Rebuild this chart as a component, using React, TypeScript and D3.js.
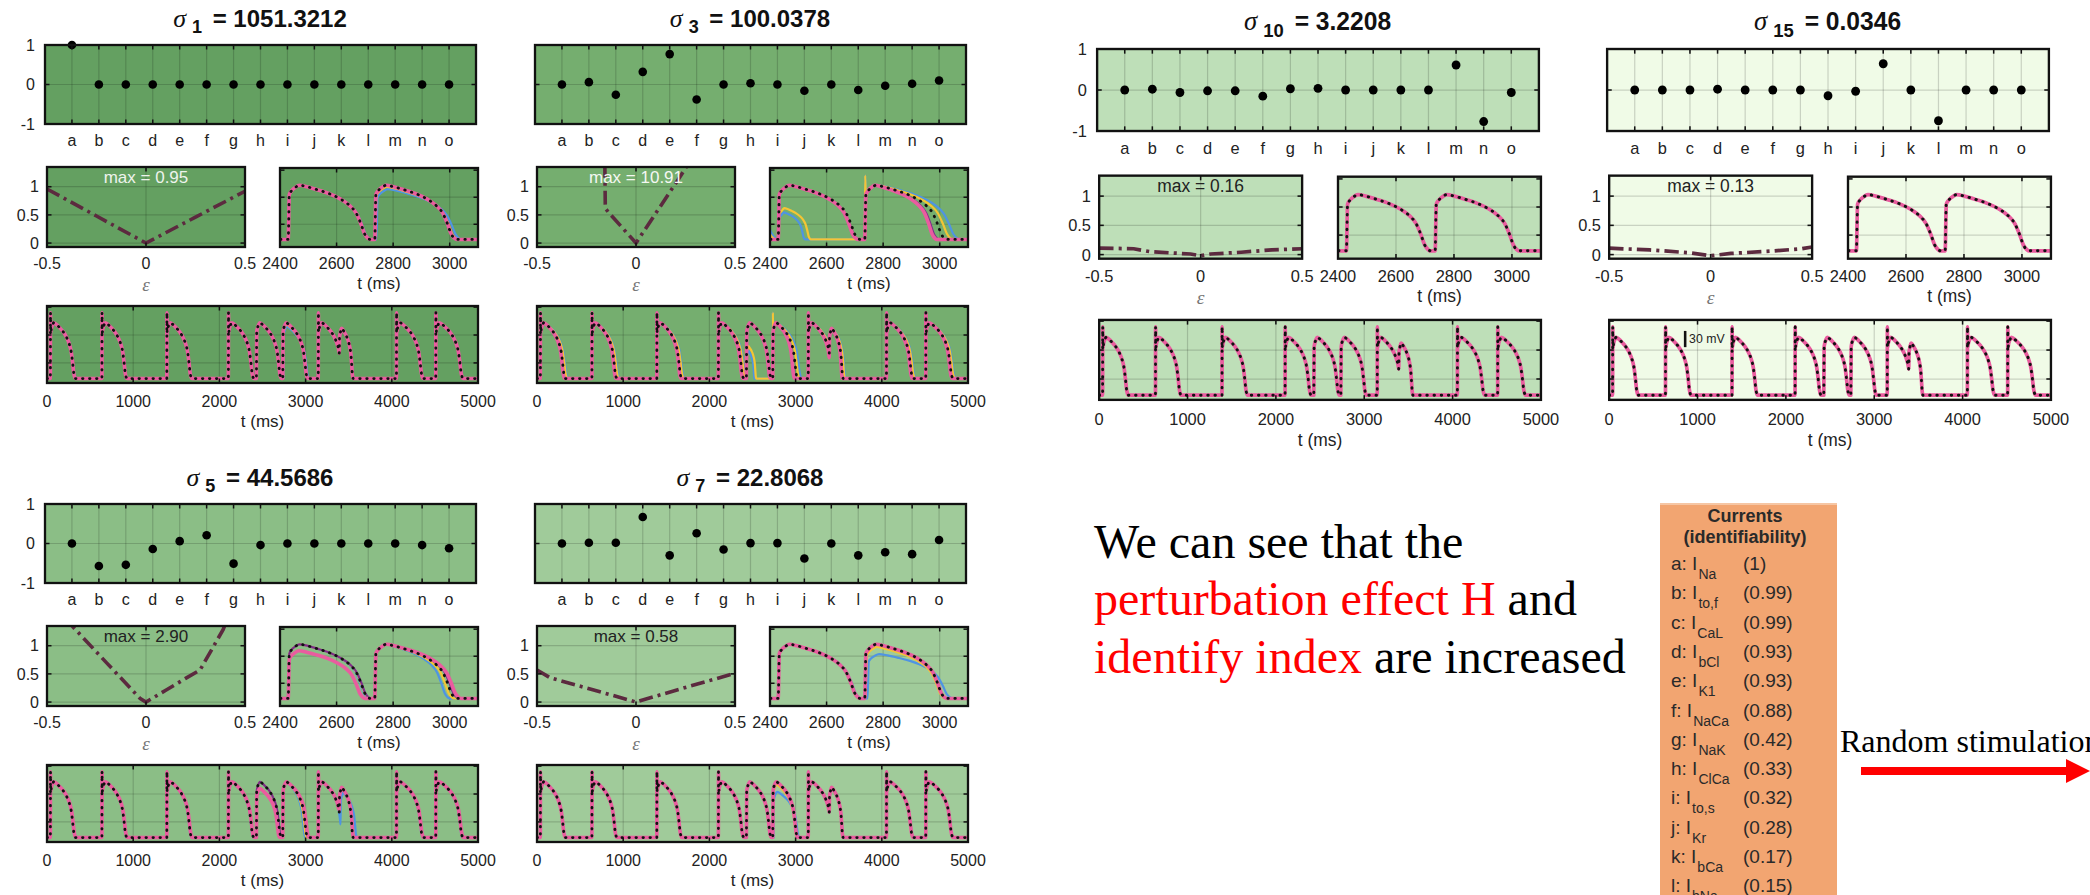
import React from 'react';
import * as d3 from 'd3';

// ---------------- data ----------------
const CATEGORIES = ['a', 'b', 'c', 'd', 'e', 'f', 'g', 'h', 'i', 'j', 'k', 'l', 'm', 'n', 'o'];
const SIGMA_INDEX = ['1', '3', '5', '7', '10', '15'];
const SIGMA_VALUE = ['1051.3212', '100.0378', '44.5686', '22.8068', '3.2208', '0.0346'];
const MAX_LABEL = ['0.95', '10.91', '2.90', '0.58', '0.16', '0.13'];

const SV_1 = [1, 0, 0, 0, 0, 0, 0, 0, 0, 0, 0, 0, 0, 0, 0];
const SV_3 = [0, 0.06, -0.26, 0.32, 0.77, -0.38, 0, 0.03, 0, -0.16, 0, -0.14, -0.03, 0.02, 0.1];
const SV_5 = [0, -0.57, -0.54, -0.14, 0.06, 0.21, -0.51, -0.04, 0, 0, 0, 0, 0, -0.04, -0.12];
const SV_7 = [0, 0.02, 0.02, 0.67, -0.3, 0.26, -0.15, 0.01, 0.01, -0.38, 0, -0.3, -0.22, -0.27, 0.09];
const SV_10 = [0, 0.02, -0.06, -0.02, -0.02, -0.15, 0.03, 0.04, 0, 0, 0, 0, 0.61, -0.77, -0.06];
const SV_15 = [0, 0, 0, 0.02, 0, 0, 0, -0.14, -0.03, 0.64, 0, -0.75, 0, 0, 0];

// H(epsilon) curves: [epsilon, H]
const H_1 = [[-0.5, 0.96], [-0.25, 0.48], [0, 0], [0.25, 0.46], [0.5, 0.92]];
const H_3 = [[-0.5, 10.91], [-0.2, 4.0], [-0.158, 1.6], [-0.155, 0.62], [-0.14, 0.55], [0, 0], [0.1, 0.53], [0.206, 1.09], [0.3, 1.6], [0.5, 2.6]];
const H_5 = [[-0.5, 1.84], [-0.357, 1.29], [-0.2, 0.7], [-0.029, 0.06], [0, 0], [0.1, 0.21], [0.2, 0.42], [0.273, 0.57], [0.39, 1.29], [0.45, 1.85], [0.5, 2.9]];
const H_7 = [[-0.5, 0.57], [-0.433, 0.43], [-0.2, 0.2], [-0.029, 0.03], [0, 0], [0.25, 0.26], [0.5, 0.51]];
const H_10 = [[-0.5, 0.11], [-0.33, 0.1], [-0.25, 0.05], [-0.15, 0.03], [-0.05, 0.01], [0, -0.02], [0.05, 0.01], [0.2, 0.04], [0.35, 0.08], [0.5, 0.1]];
const H_15 = [[-0.5, 0.11], [-0.3, 0.08], [-0.1, 0.03], [0, -0.02], [0.1, 0.02], [0.3, 0.06], [0.45, 0.1], [0.5, 0.13]];

const EPS_TICKS = [-0.5, 0, 0.5];
const EPS_TICK_LABELS = ['-0.5', '0', '0.5'];
const H_TICKS = [0, 0.5, 1];
const H_TICK_LABELS = ['0', '0.5', '1'];
const SV_TICKS = [-1, 0, 1];
const SV_TICK_LABELS = ['-1', '0', '1'];
const ZOOM_TICKS = [2400, 2600, 2800, 3000];
const FULL_TICKS = [0, 1000, 2000, 3000, 4000, 5000];
const MV_TICKS = [-50, 0, 50];

// action potential template: [ms after stimulus, mV]
const REST = -78;
const SPIKE_PEAK = 40;
const TEMPLATE_DUR = 295;
const AP_TEMPLATE = [
  [0, -78], [4, 5], [12, 12], [25, 18], [40, 22], [70, 19], [110, 13], [150, 6], [190, -4],
  [220, -15], [245, -30], [262, -50], [275, -68], [287, -76], [295, -78],
];
// reference beats: [start ms, duration ms, amplitude, spike]
const REF_BEATS = [
  [39, 291, 1, 1], [637, 290, 1, 1], [1390, 290, 1, 1], [2104, 295, 1, 1], [2429, 290, 1, 0],
  [2735, 290, 1, 0], [3147, 290, 1, 1], [3390, 162, 0.9, 0], [4054, 310, 1, 1], [4510, 316, 1, 1],
];
// perturbed traces: [colour, duration shift, beat overrides [index, start, dur, amp, spike]]
const VAR_1 = [
  ['blue', 3, [[5, 2741, 300, 0.93, 0]]],
  ['yellow', 0, [[5, 2737, 292, 0.97, 0]]],
  ['purple', 0, []],
  ['pink', 0, []],
];
const VAR_3 = [
  ['blue', 30, [[4, 2429, 95, 0.5, 0], [5, 2735, 336, 1, 1]]],
  ['yellow', 22, [[4, 2429, 115, 0.58, 0], [5, 2735, 312, 1, 1]]],
  ['purple', -5, [[5, 2735, 262, 1, 0]]],
  ['pink', -8, [[5, 2735, 255, 1, 0]]],
];
const VAR_5 = [
  ['blue', -3, [[5, 2735, 265, 1, 0], [7, 3405, 190, 0.8, 0]]],
  ['yellow', 0, [[5, 2735, 280, 1, 0]]],
  ['purple', 2, [[5, 2735, 298, 1, 0]]],
  ['pink', 5, [[4, 2429, 272, 0.88, 0], [5, 2735, 305, 1, 0]]],
];
const VAR_7 = [
  ['blue', 3, [[5, 2745, 300, 0.82, 0]]],
  ['yellow', 0, [[5, 2738, 282, 0.95, 0]]],
  ['purple', 0, []],
  ['pink', 0, []],
];
const VAR_10 = [['blue', 0, []], ['yellow', 0, []], ['purple', 0, []], ['pink', 0, []]];
const VAR_15 = [['blue', 0, []], ['yellow', 0, []], ['purple', 0, []], ['pink', 0, []]];

const CURRENT_ROWS = [
  ['a', 'Na', '(1)'], ['b', 'to,f', '(0.99)'], ['c', 'CaL', '(0.99)'], ['d', 'bCl', '(0.93)'],
  ['e', 'K1', '(0.93)'], ['f', 'NaCa', '(0.88)'], ['g', 'NaK', '(0.42)'], ['h', 'ClCa', '(0.33)'],
  ['i', 'to,s', '(0.32)'], ['j', 'Kr', '(0.28)'], ['k', 'bCa', '(0.17)'], ['l', 'bNa', '(0.15)'],
];

// ---------------- styles / layout ----------------
const SVS = [SV_1, SV_3, SV_5, SV_7, SV_10, SV_15];
const HS = [H_1, H_3, H_5, H_7, H_10, H_15];
const VARS = [VAR_1, VAR_3, VAR_5, VAR_7, VAR_10, VAR_15];
const BG = ['#64a061', '#75ae6f', '#8bbe86', '#a0cb9a', '#bedfb8', '#f0fbe7'];
const MAX_COLOR = ['#eef3ec', '#f4f7f2', '#222', '#222', '#222', '#222'];
const SHOW_SV_LABELS = [true, false, true, false, true, false];
const GROUP_POS = [[0, 0, 1, 1], [490, 0, 1, 1], [0, 459, 1, 1], [490, 459, 1, 1], [1051, 2.3, 1.025, 1.038], [1561, 2.3, 1.025, 1.038]];
const COLORS: Record<string, string> = { blue: '#4f94e3', yellow: '#f4c534', purple: '#7a2f8a', pink: '#ea5c9f' };
const SANS = "'Liberation Sans', Arial, Helvetica, sans-serif";
const SERIF = "'Liberation Serif', 'Times New Roman', serif";

const R_DOTS = { x0: 45, x1: 476, y0: 45, y1: 124 };
const R_EPS = { x0: 47, x1: 245, y0: 167, y1: 247 };
const R_ZOOM = { x0: 280, x1: 478, y0: 168, y1: 247 };
const R_FULL = { x0: 47, x1: 478, y0: 306, y1: 383 };

// ---------------- helpers ----------------
function valueAt(pts: number[][], t: number) {
  const last = pts[pts.length - 1];
  if (t >= last[0]) return REST;
  const i = d3.bisector((d: number[]) => d[0]).right(pts, t);
  const a = pts[i - 1], b = pts[i];
  return a[1] + ((b[1] - a[1]) * (t - a[0])) / (b[0] - a[0]);
}

function buildTrace(beats: number[][]) {
  let pts: number[][] = [[0, REST]];
  beats.forEach(([start, dur, amp, spike]) => {
    const v0 = valueAt(pts, start);
    pts = pts.filter((p) => p[0] < start);
    pts.push([start, v0]);
    if (spike) pts.push([start + 1.5, SPIKE_PEAK]);
    const k = (dur - 12) / (TEMPLATE_DUR - 12);
    AP_TEMPLATE.forEach(([t, v]) => {
      if (t === 0) return;
      const tt = t <= 12 ? t : 12 + (t - 12) * k;
      pts.push([start + tt, REST + (v - REST) * amp]);
    });
  });
  pts.push([5000, REST]);
  return pts;
}

function variantBeats(shift: number, overrides: number[][]) {
  return REF_BEATS.map((b, i) => {
    const o = overrides.find((q) => q[0] === i);
    if (o) return o.slice(1);
    return [b[0], b[1] + shift, b[2], b[3]];
  });
}

const REF_TRACE = buildTrace(REF_BEATS);

function Frame({ r, xt, yt }: any) {
  const L = 4.5;
  return (
    <g stroke="#111" fill="none">
      {xt.map((x: number, i: number) => (
        <g key={'x' + i}>
          <line x1={x} x2={x} y1={r.y1} y2={r.y1 - L} strokeWidth={1.5} />
          <line x1={x} x2={x} y1={r.y0} y2={r.y0 + L} strokeWidth={1.5} />
        </g>
      ))}
      {yt.map((y: number, i: number) => (
        <g key={'y' + i}>
          <line x1={r.x0} x2={r.x0 + L} y1={y} y2={y} strokeWidth={1.5} />
          <line x1={r.x1} x2={r.x1 - L} y1={y} y2={y} strokeWidth={1.5} />
        </g>
      ))}
      <rect x={r.x0} y={r.y0} width={r.x1 - r.x0} height={r.y1 - r.y0} strokeWidth={2.3} />
    </g>
  );
}

function Grid({ r, xg, yg }: any) {
  return (
    <g stroke="#000" strokeOpacity={0.16} strokeWidth={1.2}>
      {xg.map((x: number, i: number) => <line key={'gx' + i} x1={x} x2={x} y1={r.y0} y2={r.y1} />)}
      {yg.map((y: number, i: number) => <line key={'gy' + i} x1={r.x0} x2={r.x1} y1={y} y2={y} />)}
    </g>
  );
}

function Traces({ p, xS, yS, clipId }: any) {
  const line = d3.line<number[]>().x((d) => xS(d[0])).y((d) => yS(d[1])).curve(d3.curveMonotoneX);
  return (
    <g clipPath={`url(#${clipId})`} fill="none" strokeLinejoin="round">
      {VARS[p].map((v: any, i: number) => {
        const tr = buildTrace(variantBeats(v[1], v[2]));
        return (
          <path key={i} d={line(tr) || ''} stroke={COLORS[v[0]]} strokeWidth={v[0] === 'pink' ? 3.6 : 2.2} />
        );
      })}
      <path d={line(REF_TRACE) || ''} stroke="#111" strokeWidth={2.8} strokeDasharray="0.5 6.5" strokeLinecap="round" />
    </g>
  );
}

function Panel({ p }: { p: number }) {
  const [ox, oy, sx, sy] = GROUP_POS[p];
  const bg = BG[p];
  const xD = d3.scaleLinear().domain([0, 16]).range([R_DOTS.x0, R_DOTS.x1]);
  const yD = d3.scaleLinear().domain([-1, 1]).range([R_DOTS.y1, R_DOTS.y0]);
  const xE = d3.scaleLinear().domain([-0.5, 0.5]).range([R_EPS.x0, R_EPS.x1]);
  const yE = d3.scaleLinear().domain([-0.07, 1.35]).range([R_EPS.y1, R_EPS.y0]);
  const xZ = d3.scaleLinear().domain([2400, 3100]).range([R_ZOOM.x0, R_ZOOM.x1]);
  const yZ = d3.scaleLinear().domain([-92, 54]).range([R_ZOOM.y1, R_ZOOM.y0]);
  const xF = d3.scaleLinear().domain([0, 5000]).range([R_FULL.x0, R_FULL.x1]);
  const yF = d3.scaleLinear().domain([-86, 52]).range([R_FULL.y1, R_FULL.y0]);

  const hLine = d3.line<number[]>().x((d) => xE(d[0])).y((d) => yE(d[1])).curve(d3.curveLinear);
  const cid = (s: string) => `clip-${s}-${p}`;
  const idx = CATEGORIES.map((_, i) => i + 1);

  return (
    <g transform={`translate(${ox},${oy}) scale(${sx},${sy})`}>
      <defs>
        <clipPath id={cid('e')}><rect x={R_EPS.x0} y={R_EPS.y0} width={R_EPS.x1 - R_EPS.x0} height={R_EPS.y1 - R_EPS.y0} /></clipPath>
        <clipPath id={cid('z')}><rect x={R_ZOOM.x0} y={R_ZOOM.y0} width={R_ZOOM.x1 - R_ZOOM.x0} height={R_ZOOM.y1 - R_ZOOM.y0} /></clipPath>
        <clipPath id={cid('f')}><rect x={R_FULL.x0} y={R_FULL.y0} width={R_FULL.x1 - R_FULL.x0} height={R_FULL.y1 - R_FULL.y0} /></clipPath>
      </defs>

      {/* title */}
      <text x={260} y={27} textAnchor="middle" fontFamily={SANS} fontSize={24} fontWeight="bold" fill="#111">
        <tspan fontFamily={SERIF} fontStyle="italic" fontWeight="normal" fontSize={26}>σ</tspan>
        <tspan fontSize={18} dy={6} dx={6}>{SIGMA_INDEX[p]}</tspan>
        <tspan dy={-6} dx={4}>{' = ' + SIGMA_VALUE[p]}</tspan>
      </text>

      {/* singular vector dots */}
      <rect x={R_DOTS.x0} y={R_DOTS.y0} width={R_DOTS.x1 - R_DOTS.x0} height={R_DOTS.y1 - R_DOTS.y0} fill={bg} />
      <Grid r={R_DOTS} xg={idx.map((i) => xD(i))} yg={[yD(0)]} />
      {SVS[p].map((v, i) => <circle key={i} cx={xD(i + 1)} cy={yD(v)} r={4.3} fill="#000" />)}
      <Frame r={R_DOTS} xt={idx.map((i) => xD(i))} yt={SV_TICKS.map((v) => yD(v))} />
      {CATEGORIES.map((c, i) => (
        <text key={c} x={xD(i + 1)} y={146} textAnchor="middle" fontFamily={SANS} fontSize={16} fill="#222">{c}</text>
      ))}
      {SHOW_SV_LABELS[p] && SV_TICKS.map((v, i) => (
        <text key={i} x={R_DOTS.x0 - 10} y={yD(v)} dy="0.36em" textAnchor="end" fontFamily={SANS} fontSize={16} fill="#222">{SV_TICK_LABELS[i]}</text>
      ))}

      {/* epsilon panel */}
      <rect x={R_EPS.x0} y={R_EPS.y0} width={R_EPS.x1 - R_EPS.x0} height={R_EPS.y1 - R_EPS.y0} fill={bg} />
      <Grid r={R_EPS} xg={[xE(0)]} yg={H_TICKS.map((v) => yE(v))} />
      <path d={hLine(HS[p] as number[][]) || ''} clipPath={`url(#${cid('e')})`} fill="none" stroke="#5c2a3f" strokeWidth={3.6} strokeDasharray="14 5 3 5" />
      <text x={(R_EPS.x0 + R_EPS.x1) / 2} y={183} textAnchor="middle" fontFamily={SANS} fontSize={17} fill={MAX_COLOR[p]}>{'max = ' + MAX_LABEL[p]}</text>
      <Frame r={R_EPS} xt={EPS_TICKS.map((v) => xE(v))} yt={H_TICKS.map((v) => yE(v))} />
      {EPS_TICKS.map((v, i) => (
        <text key={i} x={xE(v)} y={269} textAnchor="middle" fontFamily={SANS} fontSize={16} fill="#222">{EPS_TICK_LABELS[i]}</text>
      ))}
      {H_TICKS.map((v, i) => (
        <text key={i} x={R_EPS.x0 - 8} y={yE(v)} dy="0.36em" textAnchor="end" fontFamily={SANS} fontSize={16} fill="#222">{H_TICK_LABELS[i]}</text>
      ))}
      <text x={(R_EPS.x0 + R_EPS.x1) / 2} y={291} textAnchor="middle" fontFamily={SERIF} fontStyle="italic" fontSize={19} fill="#777">ε</text>

      {/* zoomed trace panel */}
      <rect x={R_ZOOM.x0} y={R_ZOOM.y0} width={R_ZOOM.x1 - R_ZOOM.x0} height={R_ZOOM.y1 - R_ZOOM.y0} fill={bg} />
      <Grid r={R_ZOOM} xg={[2600, 2800, 3000].map((v) => xZ(v))} yg={[-50, 0].map((v) => yZ(v))} />
      <Traces p={p} xS={xZ} yS={yZ} clipId={cid('z')} />
      <Frame r={R_ZOOM} xt={ZOOM_TICKS.map((v) => xZ(v))} yt={MV_TICKS.map((v) => yZ(v))} />
      {ZOOM_TICKS.map((v) => (
        <text key={v} x={xZ(v)} y={269} textAnchor="middle" fontFamily={SANS} fontSize={16} fill="#222">{String(v)}</text>
      ))}
      <text x={(R_ZOOM.x0 + R_ZOOM.x1) / 2} y={289} textAnchor="middle" fontFamily={SANS} fontSize={17} fill="#222">t (ms)</text>

      {/* full trace panel */}
      <rect x={R_FULL.x0} y={R_FULL.y0} width={R_FULL.x1 - R_FULL.x0} height={R_FULL.y1 - R_FULL.y0} fill={bg} />
      <Grid r={R_FULL} xg={[1000, 2000, 3000, 4000].map((v) => xF(v))} yg={[-50, 0].map((v) => yF(v))} />
      <Traces p={p} xS={xF} yS={yF} clipId={cid('f')} />
      <Frame r={R_FULL} xt={FULL_TICKS.map((v) => xF(v))} yt={MV_TICKS.map((v) => yF(v))} />
      {FULL_TICKS.map((v) => (
        <text key={v} x={xF(v)} y={407} textAnchor="middle" fontFamily={SANS} fontSize={16} fill="#222">{String(v)}</text>
      ))}
      <text x={(R_FULL.x0 + R_FULL.x1) / 2} y={427} textAnchor="middle" fontFamily={SANS} fontSize={17} fill="#222">t (ms)</text>

      {p === 5 && (
        <g>
          <line x1={xF(860)} x2={xF(860)} y1={yF(5)} y2={yF(33)} stroke="#111" strokeWidth={2.5} />
          <text x={xF(905)} y={yF(19)} dy="0.35em" fontFamily={SANS} fontSize={12} fill="#222">30 mV</text>
        </g>
      )}
    </g>
  );
}

export default function App() {
  return (
    <svg width={2090} height={895} style={{ position: 'absolute', left: 0, top: 0, background: '#fff' }}>
      <rect x={0} y={0} width={2090} height={895} fill="#fff" />
      {[0, 1, 2, 3, 4, 5].map((p) => <Panel key={p} p={p} />)}

      {/* commentary text */}
      <g fontFamily={SERIF} fontSize={48}>
        <text x={1094} y={558} fill="#000">We can see that the</text>
        <text x={1094} y={615}>
          <tspan fill="#ff0000">perturbation effect H</tspan>
          <tspan fill="#000"> and</tspan>
        </text>
        <text x={1094} y={673}>
          <tspan fill="#ff0000">identify index</tspan>
          <tspan fill="#000"> are increased</tspan>
        </text>
      </g>

      {/* currents table */}
      <rect x={1660} y={503} width={177} height={400} fill="#f2a571" />
      <rect x={1660} y={503} width={177} height={2} fill="#f6c6a4" />
      <g fontFamily={SANS} fill="#2a2a2a">
        <text x={1745} y={522} textAnchor="middle" fontSize={18} fontWeight="bold">Currents</text>
        <text x={1745} y={543} textAnchor="middle" fontSize={18} fontWeight="bold">(identifiability)</text>
        {CURRENT_ROWS.map((r, i) => {
          const y = 570 + i * 29.3;
          return (
            <g key={r[0]}>
              <text x={1671} y={y} fontSize={19}>
                <tspan>{r[0] + ': I'}</tspan>
                <tspan fontSize={14} dy={9} dx={1}>{r[1]}</tspan>
              </text>
              <text x={1743} y={y} fontSize={19}>{r[2]}</text>
            </g>
          );
        })}
      </g>

      {/* random stimulation arrow */}
      <text x={1840} y={752} fontFamily={SERIF} fontSize={32} fill="#000">Random stimulation</text>
      <rect x={1861} y={767} width={206} height={8} fill="#ff0000" />
      <polygon points="2066,759 2090,771 2066,783" fill="#ff0000" />
    </svg>
  );
}
